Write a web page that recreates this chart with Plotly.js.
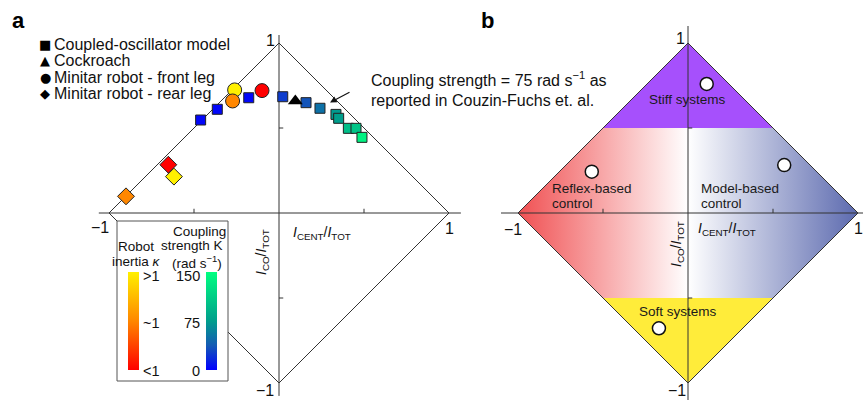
<!DOCTYPE html>
<html><head><meta charset="utf-8">
<script src="https://cdn.plot.ly/plotly-3.0.1.min.js"></script>
<style>html,body{margin:0;padding:0;background:#fff}#plot{width:863px;height:401px}</style>
</head><body><div id="plot"></div>
<script>
// ---- data (panel a) ----
var modelX = [-0.461,-0.363,-0.178,0.022,0.159,0.241,0.335,0.351,0.408,0.453,0.488];
var modelY = [0.547,0.610,0.678,0.684,0.649,0.616,0.580,0.557,0.498,0.498,0.445];
var modelK = [3,3,3,25,35,50,72,75,100,105,140];
var roachX = [0.096];
var roachY = [0.659];
var frontX = [-0.261,-0.273,-0.100];
var frontY = [0.724,0.659,0.720];
var frontKappa = [1,0.5,0];
var rearX = [-0.900,-0.651,-0.618];
var rearY = [0.098,0.284,0.214];
var rearKappa = [0.5,0,1];
var kappaTicks = ['>1','~1','<1'];
var kTicks = ['150','75','0'];
// ---- data (panel b) ----
var stiffX = [-0.5,0.5,0,-0.5], stiffY = [0.5,0.5,1,0.5];
var midX = [-1,-0.5,0.5,1,0.5,-0.5,-1], midY = [0,0.5,0.5,0,-0.5,-0.5,0];
var softX = [-0.5,0.5,0,-0.5], softY = [-0.5,-0.5,-1,-0.5];
var exX = [0.110,-0.566,0.566,-0.171];
var exY = [0.759,0.243,0.282,-0.678];

var W = 863, H = 401, S = 170, CY = 213, CXa = 279, CXb = 688, SPLIT = 480;
function fx(px){return px/W;}
function fy(py){return 1-py/H;}
var FONT = 'Liberation Sans, Arial, sans-serif';

var robotScale = [[0,'rgb(255,0,0)'],[0.5,'rgb(255,135,0)'],[1,'rgb(255,240,0)']];
var kScale = [[0,'rgb(0,0,255)'],[0.25,'rgb(20,90,180)'],[0.5,'rgb(0,158,140)'],[1,'rgb(0,255,128)']];

var cbCommon = {lenmode:'pixels', len:98, thicknessmode:'pixels', thickness:11, xpad:0, ypad:0,
  outlinewidth:0, showticklabels:false, ticks:'', xanchor:'left', yanchor:'bottom', y:fy(370), bgcolor:'rgba(0,0,0,0)', borderwidth:0};

var traces = [
  {type:'scatter', mode:'markers', x:modelX, y:modelY, xaxis:'x', yaxis:'y', showlegend:false, hoverinfo:'skip',
   marker:{symbol:'square', size:10, color:modelK, colorscale:kScale, cmin:0, cmax:150,
     line:{color:'#222', width:1}, showscale:true, colorbar:Object.assign({x:fx(206)}, cbCommon)}},
  {type:'scatter', mode:'markers', x:roachX, y:roachY, xaxis:'x', yaxis:'y', showlegend:false,
   marker:{symbol:'triangle-up', size:13, color:'#000'}},
  {type:'scatter', mode:'markers', x:frontX, y:frontY, xaxis:'x', yaxis:'y', showlegend:false,
   marker:{symbol:'circle', size:14, color:frontKappa, colorscale:robotScale, cmin:0, cmax:1,
     line:{color:'#222', width:1}, showscale:true, colorbar:Object.assign({x:fx(128)}, cbCommon)}},
  {type:'scatter', mode:'markers', x:rearX, y:rearY, xaxis:'x', yaxis:'y', showlegend:false,
   marker:{symbol:'diamond', size:13, color:rearKappa, colorscale:robotScale, cmin:0, cmax:1,
     line:{color:'#222', width:1}, showscale:false}},
  // panel b regions
  {type:'scatter', mode:'none', x:stiffX, y:stiffY, fill:'toself', fillcolor:'rgb(166,80,252)', xaxis:'x2', yaxis:'y2', showlegend:false, hoverinfo:'skip'},
  {type:'scatter', mode:'none', x:midX, y:midY, fill:'toself', xaxis:'x2', yaxis:'y2', showlegend:false, hoverinfo:'skip',
   fillgradient:{type:'horizontal', start:-1, stop:1,
     colorscale:[[0,'rgb(240,80,82)'],[0.5,'rgb(255,255,255)'],[1,'rgb(92,106,175)']]}},
  {type:'scatter', mode:'none', x:softX, y:softY, fill:'toself', fillcolor:'rgb(255,236,58)', xaxis:'x2', yaxis:'y2', showlegend:false, hoverinfo:'skip'},
  {type:'scatter', mode:'markers', x:exX, y:exY, xaxis:'x2', yaxis:'y2', showlegend:false,
   marker:{symbol:'circle', size:13, color:'#fff', line:{color:'#111', width:1.5}}}
];

var LC = '#333', tk = 0.025;
function axisShapes(xr, yr, layer, hx0, hx1, vy0, vy1){
  var s = [];
  s.push({type:'path', xref:xr, yref:yr, layer:layer, path:'M-1,0 L0,1 L1,0 L0,-1 Z', line:{color:LC, width:1}});
  s.push({type:'line', xref:xr, yref:yr, layer:layer, x0:hx0, x1:hx1, y0:0, y1:0, line:{color:LC, width:1}});
  s.push({type:'line', xref:xr, yref:yr, layer:layer, x0:0, x1:0, y0:vy0, y1:vy1, line:{color:LC, width:1}});
  [-0.5,0.5].forEach(function(v){
    s.push({type:'line', xref:xr, yref:yr, layer:layer, x0:v, x1:v, y0:0, y1:tk, line:{color:LC, width:1}});
    s.push({type:'line', xref:xr, yref:yr, layer:layer, x0:0, x1:tk, y0:v, y1:v, line:{color:LC, width:1}});
  });
  return s;
}
var shapes = axisShapes('x','y','below',-1.06,1.07,-1.076,1.047);
// legend box (covers lower-left edge)
shapes.push({type:'rect', xref:'x', yref:'y', layer:'below',
  x0:(117-CXa)/S, x1:(228-CXa)/S, y0:(CY-381)/S, y1:(CY-221)/S, fillcolor:'#fff', line:{color:'#555', width:1}});
shapes = shapes.concat(axisShapes('x2','y2','above',-1.1,1.03,-1.1,1.1));

var ann = [];
function txt(t, px, py, opts){
  var a = Object.assign({text:t, xref:'paper', yref:'paper', x:fx(px), y:fy(py), showarrow:false, borderpad:0,
    xanchor:'center', yanchor:'middle', font:{family:FONT, size:16, color:'#111'}}, opts||{});
  ann.push(a);
}
txt('<b>a</b>', 18, 20, {font:{family:FONT, size:22, color:'#000'}});
txt('<b>b</b>', 487, 20, {font:{family:FONT, size:22, color:'#000'}});
// legend
var legG = ['■','▲','●','◆'];
var legT = ['Coupled-oscillator model','Cockroach','Minitar robot - front leg','Minitar robot - rear leg'];
var legY = [44,60,77,93];
for (var i=0;i<4;i++){
  txt(legG[i], 45, legY[i], {font:{family:'DejaVu Sans', size:13, color:'#000'}});
  txt(legT[i], 53, legY[i], {xanchor:'left'});
}
// arrow note
txt('Coupling strength = 75 rad s<sup>−1</sup> as', 370, 79, {xanchor:'left'});
txt('reported in Couzin-Fuchs et. al.', 370, 101, {xanchor:'left'});
ann.push({text:'', xref:'x', yref:'y', x:(330-CXa)/S, y:(CY-102.5)/S, ax:21, ay:-11, showarrow:true,
  arrowhead:2, arrowsize:1.1, arrowwidth:1.2, arrowcolor:'#111', standoff:0});
// legend box texts
var f12 = {family:FONT, size:13.5, color:'#111'};
txt('Robot', 136, 246, {font:f12});
txt('inertia <i>κ</i>', 136, 261, {font:f12});
txt('Coupling', 199, 231, {font:f12});
txt('strength K', 192, 245, {font:f12});
txt('(rad s<sup>−1</sup>)', 197, 262, {font:f12});
var tickPY = [276,323,371];
for (var j=0;j<3;j++){
  txt(kappaTicks[j], 142, tickPY[j], {xanchor:'left', font:{family:FONT, size:14.5, color:'#111'}});
  txt(kTicks[j], 201, tickPY[j], {xanchor:'right', font:{family:FONT, size:14.5, color:'#111'}});
}
// axis tick labels
var tf = {family:FONT, size:16, color:'#111'};
function lab(t, xr, yr, x, y, xs, ys){ ann.push({text:t, xref:xr, yref:yr, x:x, y:y, xshift:xs, yshift:ys, showarrow:false, borderpad:0, xanchor:'center', yanchor:'middle', font:tf}); }
lab('1','x','y',0,1,-9,3); lab('−1','x','y',-1,0,-9,-14); lab('1','x','y',1,0,0,-15); lab('−1','x','y',0,-1,-14,-7);
lab('1','x2','y2',0,1,-8,5); lab('−1','x2','y2',-1,0,-5,-16); lab('1','x2','y2',1,0,0,-15); lab('−1','x2','y2',0,-1,-11,-7);
// axis titles
var af = {family:FONT, size:14, color:'#111'};
var tCent = '<i>I</i><sub>CENT</sub>/<i>I</i><sub>TOT</sub>';
var tCo = '<i>I</i><sub>CO</sub>/<i>I</i><sub>TOT</sub>';
txt(tCent, 322, 233, {font:af});
txt(tCent, 727, 229, {font:af});
txt(tCo, 262, 252, {font:af, textangle:-90});
txt(tCo, 677, 244, {font:af, textangle:-90});
// region labels
var rf = {family:FONT, size:13.5, color:'#1a1a1a'};
txt('Stiff systems', 687, 99, {font:rf});
txt('Soft systems', 678, 311, {font:rf});
txt('Reflex-based', 551, 188, {xanchor:'left', font:rf});
txt('control', 551, 203, {xanchor:'left', font:rf});
txt('Model-based', 700, 188, {xanchor:'left', font:rf});
txt('control', 700, 203, {xanchor:'left', font:rf});

var layout = {
  width:W, height:H, margin:{l:0,r:0,t:0,b:0, autoexpand:false},
  paper_bgcolor:'#fff', plot_bgcolor:'rgba(0,0,0,0)', showlegend:false,
  xaxis:{domain:[0,SPLIT/W], range:[(0-CXa)/S,(SPLIT-CXa)/S], visible:false, fixedrange:true},
  yaxis:{domain:[0,1], range:[(CY-H)/S, CY/S], visible:false, fixedrange:true},
  xaxis2:{domain:[SPLIT/W,1], range:[(SPLIT-CXb)/S,(W-CXb)/S], visible:false, anchor:'y2', fixedrange:true},
  yaxis2:{domain:[0,1], range:[(CY-H)/S, CY/S], visible:false, anchor:'x2', fixedrange:true},
  shapes:shapes, annotations:ann,
  font:{family:FONT}
};
Plotly.newPlot('plot', traces, layout, {displayModeBar:false, staticPlot:true});
</script></body></html>
